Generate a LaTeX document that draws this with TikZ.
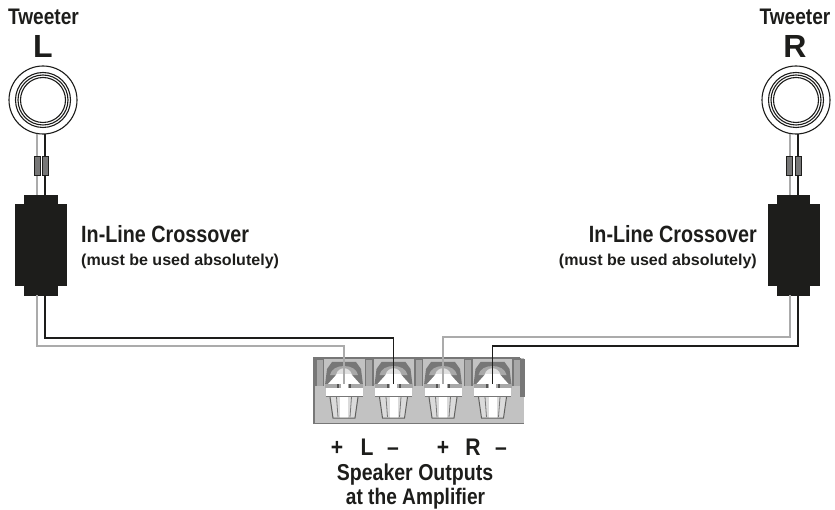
\documentclass[tikz,border=0pt]{standalone}
\usepackage{fontspec}
\usepackage{graphicx}
\setmainfont{Liberation Sans}
\definecolor{ink}{HTML}{1D1D1B}
\definecolor{wiregray}{HTML}{ABABAB}
\definecolor{plate}{HTML}{C2C2C2}
\definecolor{bar}{HTML}{777777}
\definecolor{midg}{HTML}{A8A8A8}
\newcommand{\lbl}[3]{\scalebox{#2}[1]{\fontsize{#1}{#1}\selectfont\bfseries #3}}
\tikzset{
  x=1pt,y=-1pt,
  txt/.style={inner sep=0pt,text=ink,anchor=base},
  ring/.style={draw=ink,line width=1.1pt,circle,inner sep=0pt,fill=white},
  graywire/.style={draw=wiregray,line width=1.6pt},
  blackwire/.style={draw=ink,line width=1.6pt},
  fuse/.style={draw=ink,line width=.7pt,fill=bar,minimum width=6pt,minimum height=19pt,inner sep=0pt},
  xbody/.style={fill=ink,inner sep=0pt},
  pics/terminal/.style={code={
    % dark shoulders and arch
    \fill[bar] (-19,24) -- (-17,8) -- (-12,1) -- (12,1) -- (17,8) -- (19,24) -- cycle;
    \fill[midg] (-14,14) .. controls (-12,2) and (12,2) .. (14,14) -- cycle;
    \fill[white!88!black] (-8,14) .. controls (-6,5) and (6,5) .. (8,14) -- cycle;
    % white shoulder
    \fill[white] (-7,13) -- (7,13) -- (16,23) -- (-16,23) -- cycle;
    \fill[midg] (-19,23) rectangle (19,27);
    \fill[white] (-3.5,23) rectangle (3.5,27);
    \fill[ink!75] (-7,23) rectangle (-5,27);
    \fill[ink!75] (5,23) rectangle (7,27);
    % white collar
    \fill[white] (-18.5,27) rectangle (18.5,35);
    \draw[bar,line width=.6pt] (-18.5,35.3) -- (18.5,35.3);
    % barrel
    \fill[white!86!black] (-14,36) -- (-11,57) -- (11,57) -- (14,36) -- cycle;
    \fill[white] (-4,36) rectangle (4,57);
    \draw[ink!70,line width=1pt] (-14,36) -- (-11,57) -- (11,57) -- (14,36);
    \draw[bar,line width=.8pt] (-7.5,36) -- (-6,56) (7.5,36) -- (6,56);
  }},
}
\begin{document}
\begin{tikzpicture}
\useasboundingbox (0,0) rectangle (835,510);
% labels
\node[txt] (twl) at (43.5,24.5) {\lbl{22.5}{0.85}{Tweeter}};
\node[txt] (ll) at (43,58) {\lbl{32}{1}{L}};
\node[txt] (twr) at (795,24.5) {\lbl{22.5}{0.85}{Tweeter}};
\node[txt] (lr) at (795,58) {\lbl{32}{1}{R}};
% tweeters
\foreach \n/\cx in {l/43,r/796}{
  \node[ring,minimum size=68pt] (t\n) at (\cx,100) {};
  \node[ring,minimum size=55pt] at (\cx,100) {};
  \node[ring,minimum size=50pt] at (\cx,100) {};
  \node[ring,minimum size=45pt] at (\cx,100) {};
}
% crossovers
\foreach \n/\cx in {l/41,r/793.5}{
  \node[xbody,minimum width=33.5pt,minimum height=100.5pt] (xn\n) at (\cx,245.3) {};
  \node[xbody,minimum width=52pt,minimum height=82pt] (xw\n) at (\cx,245) {};
}
% terminal block
\fill[plate] (313,358) rectangle (524,424);
\draw[bar,line width=1.3pt] (314,424) -- (314,358) -- (520,358);
\draw[bar,line width=1.3pt] (314,423.5) -- (524,423.5);
\fill[bar] (520,359) rectangle (525,397);
\foreach \bx in {316,365.5,415,464.5,513}{
  \fill[midg] (\bx,359) rectangle (\bx+7.5,386);
  \draw[bar,line width=1.1pt] (\bx,386) -- (\bx,359) -- (\bx+7.5,359) -- (\bx+7.5,386);
}
\foreach \tn/\tx in {a/344,b/393.5,c/443,d/492.5}{
  \pic at (\tx,361) {terminal};
  \coordinate (p\tn) at (\tx,384);
}
% wire corners
\coordinate (ltg) at (37,134); \coordinate (ltb) at (45,134);
\coordinate (lxg) at (37,295); \coordinate (lxb) at (45,295);
\coordinate (rtg) at (790,134); \coordinate (rtb) at (798,134);
\coordinate (rxg) at (790,295); \coordinate (rxb) at (798,295);
\draw[graywire] (ltg) -- (37,195);
\draw[blackwire] (ltb) -- (45,195);
\draw[graywire] (rtg) -- (790,195);
\draw[blackwire] (rtb) -- (798,195);
\foreach \fx in {37.5,45.8,789.5,798.5}{\node[fuse] at (\fx,165.5) {};}
\draw[graywire] (lxg) -- (37,346) -| (pa);
\draw[blackwire] (lxb) -- (45,338) -| (pb);
\draw[graywire] (rxg) -- (790,337) -| (pc);
\draw[blackwire] (rxb) -- (798,346) -| (pd);
% text
\node[txt,anchor=base west] (a1) at (81,242.7) {\lbl{23.5}{0.84}{In-Line Crossover}};
\node[txt,anchor=base west] (a2) at (81,265.7) {\lbl{15.8}{1.015}{(must be used absolutely)}};
\node[txt,anchor=base east] (b1) at (757,242.7) {\lbl{23.5}{0.84}{In-Line Crossover}};
\node[txt,anchor=base east] (b2) at (757,265.7) {\lbl{15.8}{1.015}{(must be used absolutely)}};
\foreach \m/\x/\s in {c1/337/+,c2/367/L,c3/393/–,c4/443/+,c5/473/R,c6/501/–}{
  \node[txt] (\m) at (\x,455) {\lbl{24}{0.88}{\s}};
}
\node[txt] (s1) at (415,480) {\lbl{23}{0.85}{Speaker Outputs}};
\node[txt] (s2) at (415.5,504.5) {\lbl{22.5}{0.85}{at the Amplifier}};
\end{tikzpicture}
\end{document}
